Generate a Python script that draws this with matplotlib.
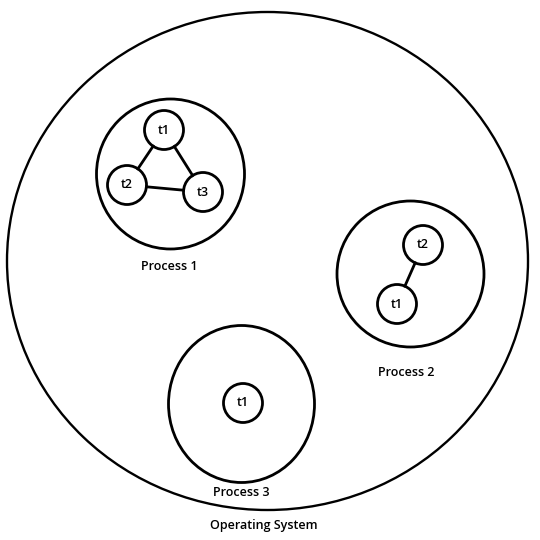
import matplotlib.pyplot as plt
from matplotlib.patches import Ellipse, Circle
import numpy as np

# labels
os_label = 'Operating System'
process_labels = ['Process 1', 'Process 2', 'Process 3']
threads = [['t1', 't2', 't3'], ['t2', 't1'], ['t1']]
links = [[(0, 1), (0, 2), (1, 2)], [(0, 1)], []]

# layout (pixel coords, y down)
os_center = (267.5, 261)
os_size = (521, 498)
proc_centers = [(170.5, 174), (410.5, 274), (241.5, 404)]
proc_sizes = [(148, 150), (147, 146), (146, 157)]
proc_label_pos = [(169, 267), (406, 373), (241, 493)]
thread_pos = [[(164, 130), (127, 185), (203, 192)],
              [(423, 245), (397, 304)],
              [(243, 403)]]
r_thread = 19.5

fig = plt.figure(figsize=(5.4, 5.4), dpi=100)
ax = fig.add_axes([0, 0, 1, 1])
ax.set_xlim(0, 540)
ax.set_ylim(540, 0)
ax.set_aspect('equal')
ax.axis('off')

font = dict(family='Open Sans', fontsize=9, fontweight='semibold',
            color='black', ha='center', va='center')

ax.add_patch(Ellipse(os_center, os_size[0], os_size[1], fill=False, lw=1.7, ec='black'))
ax.text(264, 525, os_label, **font)

for i in range(len(process_labels)):
    c = proc_centers[i]
    w, h = proc_sizes[i]
    ax.add_patch(Ellipse(c, w, h, fill=False, lw=2, ec='black'))
    ax.text(proc_label_pos[i][0], proc_label_pos[i][1], process_labels[i], **font)
    for a, b in links[i]:
        p = np.array(thread_pos[i][a])
        q = np.array(thread_pos[i][b])
        d = (q - p) / np.linalg.norm(q - p)
        s = p + d * r_thread
        e = q - d * r_thread
        ax.plot([s[0], e[0]], [s[1], e[1]], color='black', lw=2)
    for name, pos in zip(threads[i], thread_pos[i]):
        ax.add_patch(Circle(pos, r_thread, fill=False, lw=2, ec='black'))
        ax.text(pos[0], pos[1], name, **font)

fig.savefig('out.png', dpi=100, facecolor='white')
